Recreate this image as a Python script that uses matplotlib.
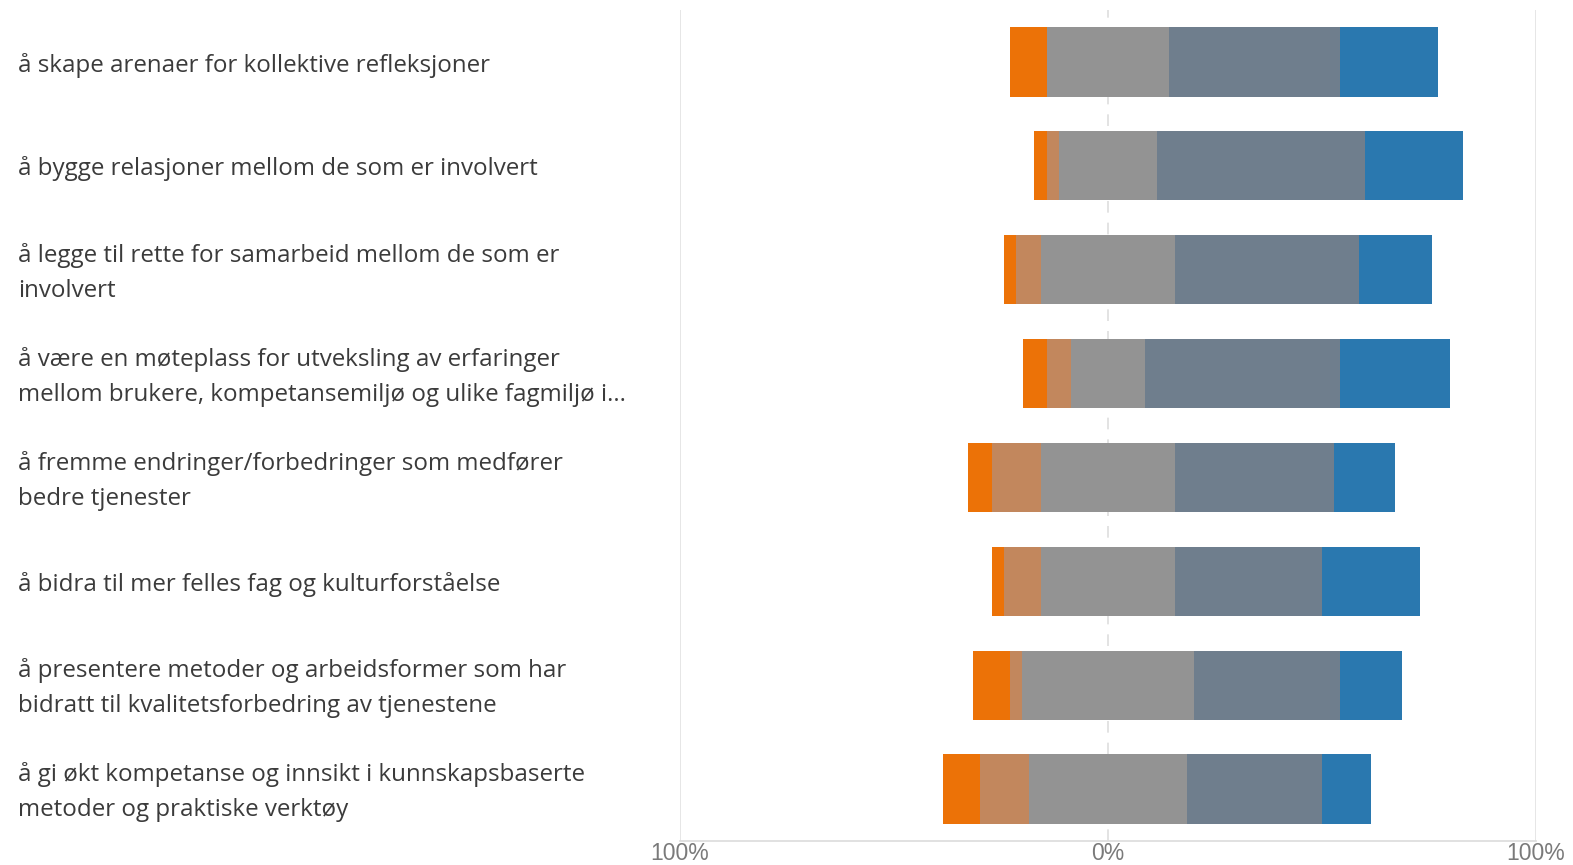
import matplotlib
matplotlib.use("Agg")
import matplotlib.pyplot as plt
import matplotlib.transforms as mtransforms
from matplotlib.ticker import FuncFormatter

# Statements (top to bottom)
statements = [
    "å skape arenaer for kollektive refleksjoner",
    "å bygge relasjoner mellom de som er involvert",
    "å legge til rette for samarbeid mellom de som er\ninvolvert",
    "å være en møteplass for utveksling av erfaringer\nmellom brukere, kompetansemiljø og ulike fagmiljø i...",
    "å fremme endringer/forbedringer som medfører\nbedre tjenester",
    "å bidra til mer felles fag og kulturforståelse",
    "å presentere metoder og arbeidsformer som har\nbidratt til kvalitetsforbedring av tjenestene",
    "å gi økt kompetanse og innsikt i kunnskapsbaserte\nmetoder og praktiske verktøy",
]

# Share of answers per response level, in percent
strongly_disagree = [8.6, 2.9, 2.9, 5.7, 5.7, 2.9, 8.6, 8.6]
disagree          = [0.0, 2.9, 5.7, 5.7, 11.4, 8.6, 2.9, 11.4]
neutral           = [28.6, 22.9, 31.4, 17.1, 31.4, 31.4, 40.0, 37.1]
agree             = [40.0, 48.6, 42.9, 45.7, 37.1, 34.3, 34.3, 31.4]
strongly_agree    = [22.9, 22.9, 17.1, 25.7, 14.3, 22.9, 14.3, 11.4]

x_ticks = [-100, 0, 100]

colors = ["#EC7207", "#C2875D", "#939393", "#6F7E8D", "#2A78AF"]

fig = plt.figure(figsize=(15.73, 8.65), dpi=100)
ax = fig.add_axes([0.4323, 0.0277, 0.5442, 0.9607])

series = [strongly_disagree, disagree, neutral, agree, strongly_agree]
ypos = list(range(len(statements)))
for i, y in enumerate(ypos):
    left = -(strongly_disagree[i] + disagree[i] + neutral[i] / 2.0)
    for s, c in zip(series, colors):
        ax.barh(y, s[i], left=left, height=0.667, color=c, edgecolor="none")
        left += s[i]

ax.set_xlim(-100, 100)
ax.set_ylim(len(statements) - 0.5, -0.5)

# Reference lines
ax.axvline(-100, color="#e2e2e2", lw=1.2, zorder=0)
ax.axvline(100, color="#e2e2e2", lw=1.2, zorder=0)
ax.axvline(0, color="#dedede", lw=1.2, ls=(0, (7, 6)), zorder=0)

for side in ["top", "left", "right"]:
    ax.spines[side].set_visible(False)
ax.spines["bottom"].set_color("#dcdcdc")
ax.spines["bottom"].set_linewidth(1.2)

ax.set_xticks(x_ticks)
ax.xaxis.set_major_formatter(FuncFormatter(lambda v, p: f"{abs(v):.0f}%"))
ax.tick_params(axis="x", length=0, pad=1, labelsize=16.5, labelcolor="#7a7a7a")
for lbl in ax.get_xticklabels():
    lbl.set_family("Liberation Sans")
ax.set_yticks([])

# Statement labels, left aligned near the figure edge
label_tr = mtransforms.blended_transform_factory(fig.transFigure, ax.transData)
for y, text in zip(ypos, statements):
    ax.text(0.0115, y + 0.03, text, transform=label_tr, ha="left", va="center",
            fontsize=17.4, family="Open Sans", color="#3b3b3b", linespacing=1.62)

fig.savefig("out.png", dpi=100, facecolor="white")
